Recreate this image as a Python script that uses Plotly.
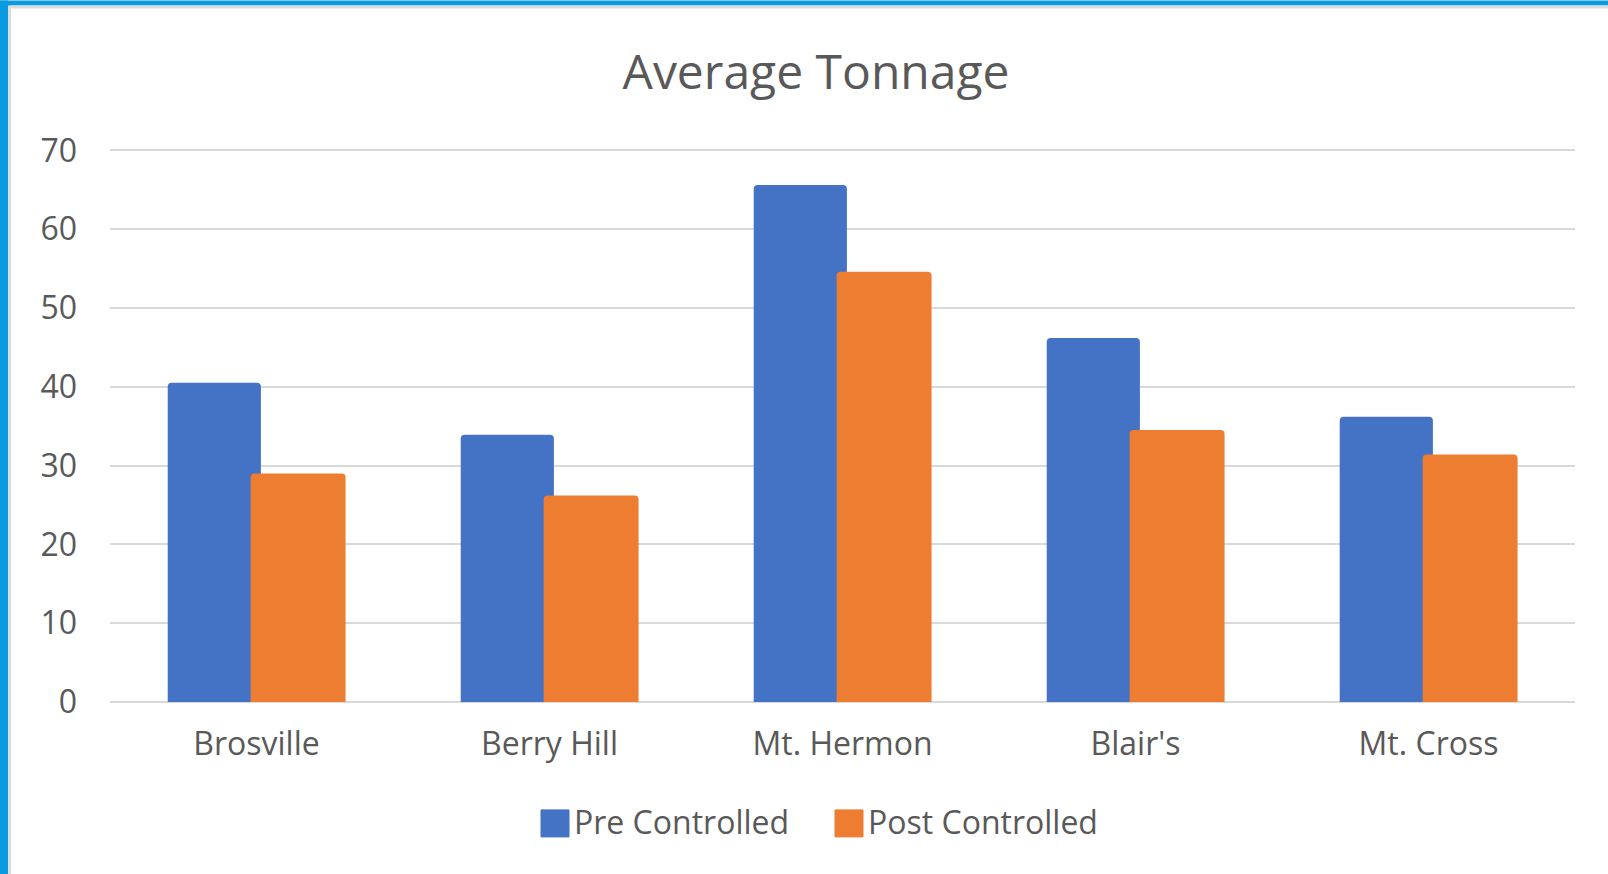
"""Average Tonnage grouped bar chart (Excel style)."""
import plotly.graph_objects as go

sites = ["Brosville", "Berry Hill", "Mt. Hermon", "Blair's", "Mt. Cross"]
pre_controlled = [40.5, 33.9, 65.6, 46.2, 36.2]
post_controlled = [29.0, 26.2, 54.6, 34.5, 31.4]
y_ticks = [0, 10, 20, 30, 40, 50, 60, 70]

BLUE = "#4472C4"
ORANGE = "#ED7D31"
TEXT = "#595959"
GRID = "#D9D9D9"
FONT = "Open Sans"

W, H = 1608, 874
Y_MAX = 70.3
# plot area: x 110..1575, value 0 at y=702 and 70 at y=150
L, R, B = 110, 33, 172
PW = W - L - R
PH = 552 * Y_MAX / 70
T = H - B - PH


def px_x(x):
    return (x - L) / PW


def px_y(y):
    return (H - B - y) / PH


fig = go.Figure()
fig.add_bar(
    x=sites, y=pre_controlled, name="Pre Controlled",
    marker_color=BLUE, marker_line_width=0,
    offset=-0.303, width=0.318,
)
fig.add_bar(
    x=sites, y=post_controlled, name="Post Controlled",
    marker_color=ORANGE, marker_line_width=0,
    offset=-0.02, width=0.324,
)

shapes = [
    # blue frame on left and top, with thin grey inner edge
    dict(type="rect", xref="paper", yref="paper", x0=px_x(0), x1=px_x(8),
         y0=px_y(874), y1=px_y(0), fillcolor="#0A9ADF", line_width=0),
    dict(type="rect", xref="paper", yref="paper", x0=px_x(8), x1=px_x(11),
         y0=px_y(874), y1=px_y(5), fillcolor="#DCDCDC", line_width=0),
    dict(type="rect", xref="paper", yref="paper", x0=px_x(0), x1=px_x(1608),
         y0=px_y(5), y1=px_y(0), fillcolor="#0A9ADF", line_width=0),
    dict(type="rect", xref="paper", yref="paper", x0=px_x(11), x1=px_x(1608),
         y0=px_y(8), y1=px_y(5), fillcolor="#DCDCDC", line_width=0),
]

# legend drawn by hand so the swatches can be as large as the original
legend_items = [("Pre Controlled", BLUE, 541), ("Post Controlled", ORANGE, 835)]
annotations = []
for label, color, x0 in legend_items:
    shapes.append(dict(type="rect", xref="paper", yref="paper",
                       x0=px_x(x0), x1=px_x(x0 + 28), y0=px_y(837), y1=px_y(810),
                       fillcolor=color, line=dict(color=color, width=1)))
    annotations.append(dict(xref="paper", yref="paper", x=px_x(x0 + 31), y=px_y(822),
                            xanchor="left", yanchor="middle", showarrow=False,
                            text=label, font=dict(family=FONT, size=32, color=TEXT)))

fig.update_layout(
    width=W, height=H,
    margin=dict(l=L, r=R, t=T, b=B),
    barmode="overlay",
    barcornerradius=4,
    showlegend=False,
    paper_bgcolor="white",
    plot_bgcolor="white",
    title=dict(text="Average Tonnage", x=816 / W, xanchor="center",
               y=1 - 72 / H, yanchor="middle", yref="container",
               font=dict(family=FONT, size=48, color=TEXT)),
    xaxis=dict(showgrid=False, showline=False, ticks="", ticklabelstandoff=20,
               tickfont=dict(family=FONT, size=32, color=TEXT)),
    yaxis=dict(range=[0, Y_MAX], tickvals=y_ticks, showgrid=True, gridcolor=GRID,
               gridwidth=2, zeroline=True, zerolinecolor=GRID, zerolinewidth=2,
               showline=False, ticks="", ticklabelstandoff=32,
               tickfont=dict(family=FONT, size=32, color=TEXT)),
    shapes=shapes,
    annotations=annotations,
)

fig.write_html(
    "out.html",
    config={"displayModeBar": False},
    post_script="document.body.style.margin='0px';",
)
